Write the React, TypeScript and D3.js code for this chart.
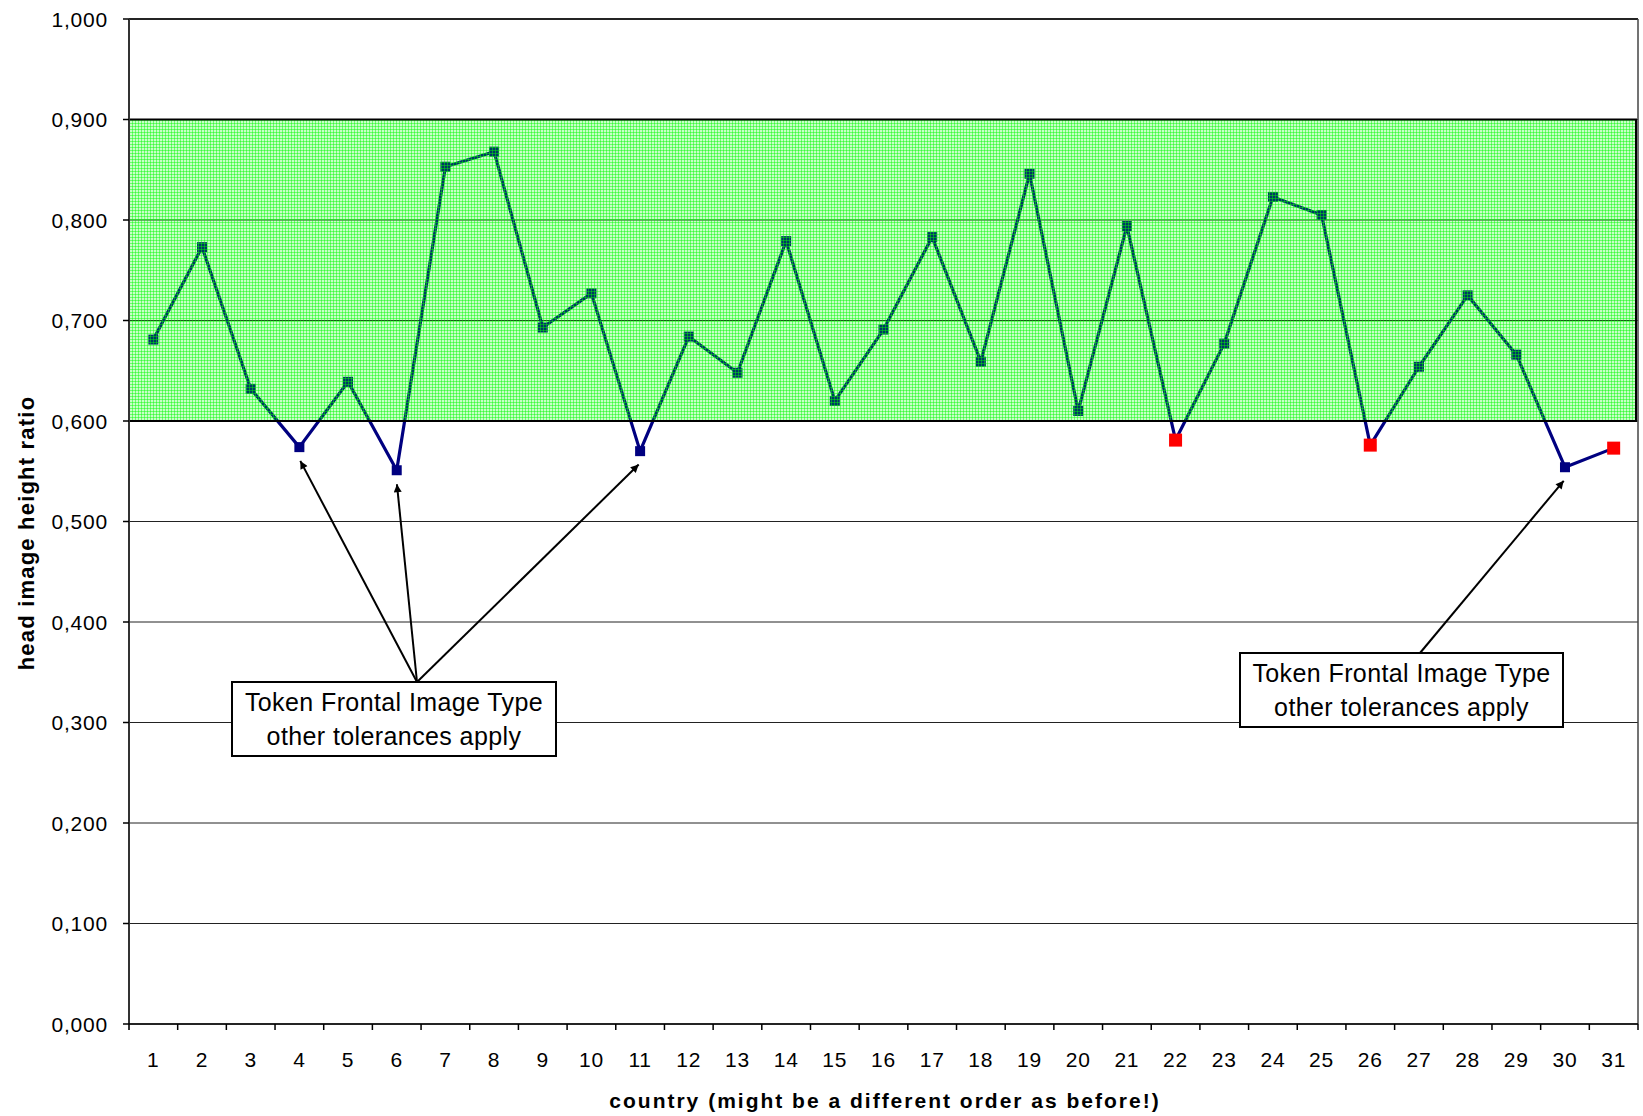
import React from "react";
import * as d3 from "d3";

const categories: number[] = Array.from({ length: 31 }, (_, i) => i + 1);
const values: number[] = [
  0.681, 0.773, 0.632, 0.574, 0.639, 0.551, 0.853, 0.868, 0.693, 0.727,
  0.57, 0.684, 0.648, 0.779, 0.62, 0.691, 0.783, 0.659, 0.846, 0.61,
  0.794, 0.581, 0.677, 0.823, 0.805, 0.576, 0.654, 0.725, 0.666, 0.554,
  0.573,
];
const redPoints: number[] = [22, 26, 31];
const yTicks: number[] = [0, 0.1, 0.2, 0.3, 0.4, 0.5, 0.6, 0.7, 0.8, 0.9, 1.0];
const bandRange: [number, number] = [0.6, 0.9];
const annotationLines: string[] = ["Token Frontal Image Type", "other tolerances apply"];
const arrowTargets1: number[] = [4, 6, 11];
const arrowTargets2: number[] = [30];

const W = 1643;
const H = 1116;
const L = 129;
const R = 1638;
const T = 19;
const B = 1024;

export default function App() {
  const x = d3.scaleBand<number>().domain(categories).range([L, R]).padding(0);
  const y = d3.scaleLinear().domain([0, 1]).range([B, T]);
  const cx = (c: number) => (x(c) as number) + x.bandwidth() / 2;
  const fmt = (v: number) => d3.format(".3f")(v).replace(".", ",");

  const line = d3
    .line<number>()
    .x((_, i) => cx(categories[i]))
    .y((d) => y(d));

  const box1 = { x0: 232, x1: 556, y0: 682, y1: 756, ax: 417 };
  const box2 = { x0: 1240, x1: 1563, y0: 653, y1: 727, ax: 1420 };

  const arrowEnd = (c: number, sx: number, sy: number) => {
    const tx = cx(c);
    const ty = y(values[c - 1]) + 12;
    const dx = tx - sx;
    const dy = ty - sy;
    const len = Math.sqrt(dx * dx + dy * dy);
    const k = (len - 2) / len;
    return { x2: sx + dx * k, y2: sy + dy * k };
  };

  const font = "'Liberation Sans', Arial, Helvetica, sans-serif";

  return (
    <svg
      width={W}
      height={H}
      style={{ position: "absolute", left: 0, top: 0, background: "#fff" }}
      fontFamily={font}
    >
      <defs>
        <pattern id="grid" width={3} height={3} patternUnits="userSpaceOnUse">
          <rect width={3} height={3} fill="rgba(0,255,0,0.22)" />
          <path d="M0,0.5H3M0.5,0V3" stroke="rgba(0,250,0,0.45)" strokeWidth={1} fill="none" />
        </pattern>
        <marker
          id="arrow"
          viewBox="0 0 10 10"
          refX={10}
          refY={5}
          markerWidth={11}
          markerHeight={8}
          markerUnits="userSpaceOnUse"
          orient="auto"
        >
          <path d="M0,0L10,5L0,10Z" fill="#000" />
        </marker>
      </defs>

      {/* gridlines */}
      {yTicks.map((t) => (
        <line key={"g" + t} x1={L} x2={R} y1={y(t)} y2={y(t)} stroke="#222" strokeWidth={1} />
      ))}

      {/* series line */}
      <path d={line(values) || ""} fill="none" stroke="#000080" strokeWidth={3.2} strokeLinejoin="round" />
      {values.map((v, i) => {
        const c = categories[i];
        const red = redPoints.includes(c);
        const s = red ? 13 : 10;
        return (
          <rect
            key={"m" + c}
            x={cx(c) - s / 2}
            y={y(v) - s / 2}
            width={s}
            height={s}
            fill={red ? "#ff0000" : "#000080"}
          />
        );
      })}

      {/* tolerance band overlay */}
      <rect
        x={L}
        y={y(bandRange[1])}
        width={R - L - 2}
        height={y(bandRange[0]) - y(bandRange[1])}
        fill="url(#grid)"
        stroke="#000"
        strokeWidth={2}
      />

      {/* frame */}
      <line x1={L} x2={R} y1={T} y2={T} stroke="#000" strokeWidth={1.5} />
      <line x1={R} x2={R} y1={T} y2={B} stroke="#444" strokeWidth={1.5} />
      <line x1={L} x2={L} y1={T} y2={B + 6} stroke="#333" strokeWidth={2} />
      <line x1={L} x2={R} y1={B} y2={B} stroke="#000" strokeWidth={1.5} />

      {/* y ticks */}
      {yTicks.map((t) => (
        <g key={"yt" + t}>
          <line x1={L - 6} x2={L} y1={y(t)} y2={y(t)} stroke="#000" strokeWidth={1.5} />
          <text
            x={108}
            y={y(t)}
            textAnchor="end"
            dominantBaseline="central"
            fontSize={21}
            letterSpacing={0.8}
            fill="#000"
          >
            {fmt(t)}
          </text>
        </g>
      ))}

      {/* x ticks */}
      {categories.map((c) => (
        <line
          key={"xt" + c}
          x1={(x(c) as number) + x.bandwidth()}
          x2={(x(c) as number) + x.bandwidth()}
          y1={B}
          y2={B + 6}
          stroke="#000"
          strokeWidth={1.5}
        />
      ))}
      {categories.map((c) => (
        <text
          key={"xl" + c}
          x={cx(c)}
          y={1059}
          textAnchor="middle"
          dominantBaseline="central"
          fontSize={21}
          letterSpacing={0.8}
          fill="#000"
        >
          {c}
        </text>
      ))}

      {/* axis titles */}
      <text
        x={885}
        y={1100}
        textAnchor="middle"
        dominantBaseline="central"
        fontSize={21}
        fontWeight="bold"
        letterSpacing={2}
        fill="#000"
      >
        country (might be a different order as before!)
      </text>
      <text
        transform="translate(26,533) rotate(-90)"
        textAnchor="middle"
        dominantBaseline="central"
        fontSize={22}
        fontWeight="bold"
        letterSpacing={1.2}
        fill="#000"
      >
        head image height ratio
      </text>

      {/* annotation arrows */}
      {arrowTargets1.map((c) => {
        const e = arrowEnd(c, box1.ax, box1.y0);
        return (
          <line
            key={"a1" + c}
            x1={box1.ax}
            y1={box1.y0}
            x2={e.x2}
            y2={e.y2}
            stroke="#000"
            strokeWidth={2}
            markerEnd="url(#arrow)"
          />
        );
      })}
      {arrowTargets2.map((c) => {
        const e = arrowEnd(c, box2.ax, box2.y0);
        return (
          <line
            key={"a2" + c}
            x1={box2.ax}
            y1={box2.y0}
            x2={e.x2}
            y2={e.y2}
            stroke="#000"
            strokeWidth={2}
            markerEnd="url(#arrow)"
          />
        );
      })}

      {/* annotation boxes */}
      {[box1, box2].map((b, bi) => (
        <g key={"box" + bi}>
          <rect x={b.x0} y={b.y0} width={b.x1 - b.x0} height={b.y1 - b.y0} fill="#fff" stroke="#000" strokeWidth={2} />
          {annotationLines.map((t, li) => (
            <text
              key={li}
              x={(b.x0 + b.x1) / 2}
              y={b.y0 + 29 + li * 34}
              textAnchor="middle"
              fontSize={25}
              letterSpacing={0.4}
              fill="#000"
            >
              {t}
            </text>
          ))}
        </g>
      ))}
    </svg>
  );
}
